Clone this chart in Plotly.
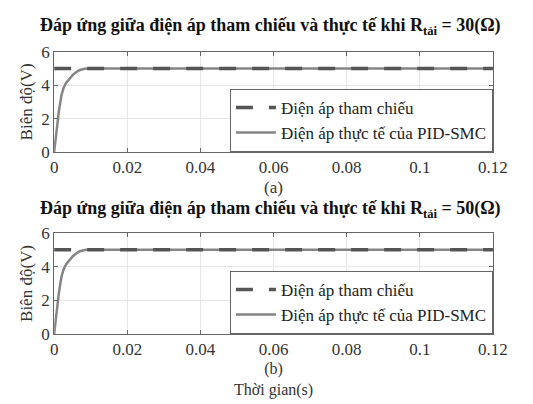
import plotly.graph_objects as go

# Data
t_ref = [0.0, 0.12]
v_ref = [5.0, 5.0]
t_act = [0.0, 0.0003, 0.0007, 0.0013, 0.002, 0.0026, 0.0033, 0.0042, 0.0051, 0.006, 0.0069, 0.008, 0.009, 0.12]
v_act = [0.0, 0.65, 1.3, 2.45, 3.4, 3.85, 4.15, 4.42, 4.62, 4.78, 4.9, 4.97, 5.0, 5.0]
x_ticks = [0, 0.02, 0.04, 0.06, 0.08, 0.1, 0.12]
x_ticktext = ["0", "0.02", "0.04", "0.06", "0.08", "0.1", "0.12"]
y_ticks = [0, 2, 4, 6]
name_ref = "Điện áp tham chiếu"
name_act = "Điện áp thực tế của PID-SMC"
titles = ["Đáp ứng giữa điện áp tham chiếu và thực tế khi R<sub>tải</sub> = 30(Ω)",
          "Đáp ứng giữa điện áp tham chiếu và thực tế khi R<sub>tải</sub> = 50(Ω)"]

W, H = 533, 404
FONT = "Liberation Serif"
FS = 17
x0, x1 = 52 / W, 507 / W
dom1 = [1 - 150 / H, 1 - 45 / H]
dom2 = [1 - 341 / H, 1 - 235 / H]

fig = go.Figure()
for i, (xa, ya, leg) in enumerate([("x", "y", "legend"), ("x2", "y2", "legend2")]):
    fig.add_trace(go.Scatter(x=t_act, y=v_act, mode="lines", name=name_act,
                             line=dict(color="#858585", width=2.5),
                             xaxis=xa, yaxis=ya, legend=leg, legendrank=2))
    fig.add_trace(go.Scatter(x=t_ref, y=v_ref, mode="lines", name=name_ref,
                             line=dict(color="#555555", width=3.5, dash="17px,16px"),
                             xaxis=xa, yaxis=ya, legend=leg, legendrank=1))

axis_common = dict(showgrid=True, gridcolor="#e6e6e6", gridwidth=1,
                   showline=True, linecolor="#666666", linewidth=1, mirror="allticks",
                   ticks="inside", ticklen=4, tickcolor="#666666",
                   tickfont=dict(family=FONT, size=FS, color="#333333"), zeroline=False)

legend_common = dict(x=x1, xanchor="right", yanchor="bottom",
                     bgcolor="white", bordercolor="#666666", borderwidth=1,
                     font=dict(family=FONT, size=FS, color="#222222"),
                     tracegroupgap=0, itemwidth=40)

fig.update_layout(
    width=W, height=H, margin=dict(l=0, r=0, t=0, b=0),
    paper_bgcolor="white", plot_bgcolor="white",
    font=dict(family=FONT, color="#222222"),
    xaxis=dict(domain=[x0, x1], range=[0, 0.12], tickvals=x_ticks, ticktext=x_ticktext,
               anchor="y", **axis_common),
    yaxis=dict(domain=dom1, range=[0, 6], tickvals=y_ticks, anchor="x",
               title=dict(text="Biên độ(V)", font=dict(family=FONT, size=FS, color="#333333"), standoff=4),
               **axis_common),
    xaxis2=dict(domain=[x0, x1], range=[0, 0.12], tickvals=x_ticks, ticktext=x_ticktext,
                anchor="y2", **axis_common),
    yaxis2=dict(domain=dom2, range=[0, 6], tickvals=y_ticks, anchor="x2",
                title=dict(text="Biên độ(V)", font=dict(family=FONT, size=FS, color="#333333"), standoff=4),
                **axis_common),
    legend=dict(y=dom1[0], **legend_common),
    legend2=dict(y=dom2[0], **legend_common),
    showlegend=True,
)

ann = [
    dict(text="<b>" + titles[0] + "</b>", x=276 / W, y=1 - 18 / H, size=18),
    dict(text="<b>" + titles[1] + "</b>", x=276 / W, y=1 - 210 / H, size=18),
    dict(text="(a)", x=(x0 + x1) / 2, y=1 - 187 / H, size=FS),
    dict(text="(b)<br>Thời gian(s)", x=(x0 + x1) / 2, y=1 - 389 / H, size=16),
]
for a in ann:
    size = a.pop("size")
    fig.add_annotation(xref="paper", yref="paper", showarrow=False,
                       xanchor="center", yanchor="middle", borderpad=0,
                       font=dict(family=FONT, size=size, color="#111111" if "<b>" in a["text"] else "#333333"),
                       **a)

fig.write_html("out.html")
